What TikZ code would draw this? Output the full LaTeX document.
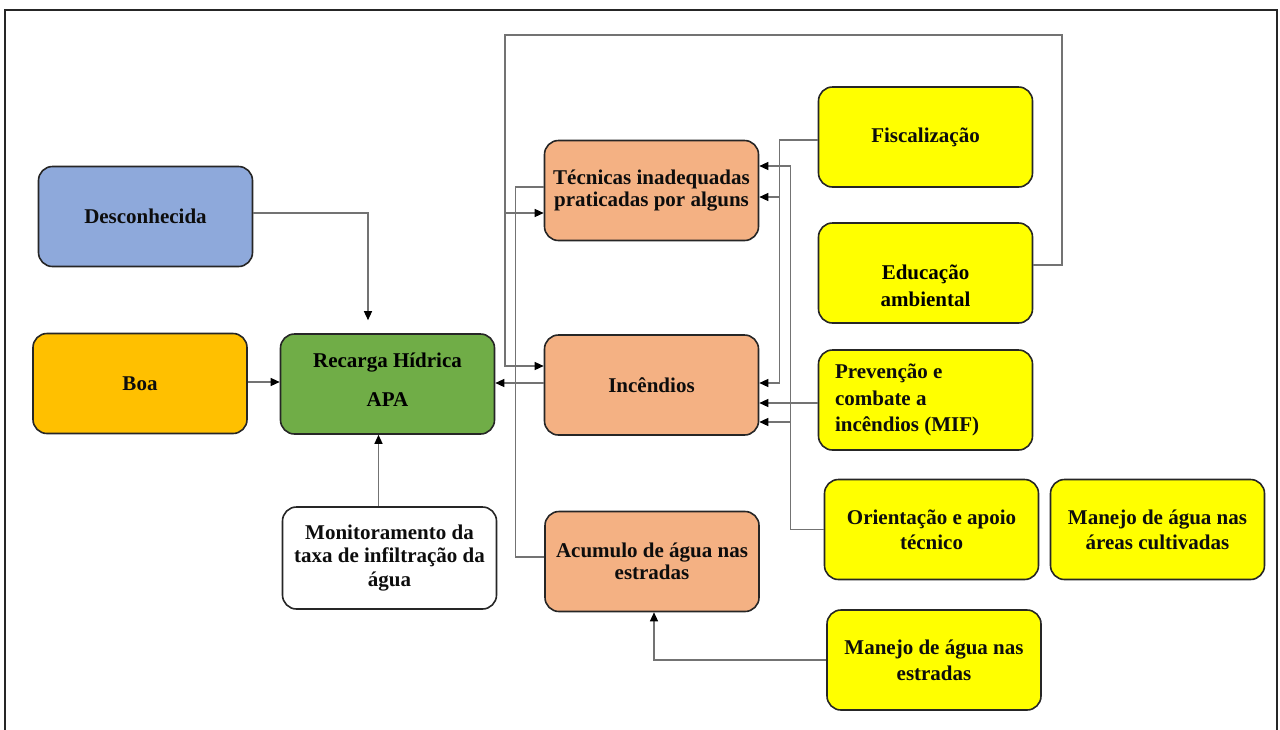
\documentclass[tikz,border=0pt]{standalone}
\usepackage{fontspec}
\setmainfont{Liberation Serif}
\usetikzlibrary{arrows.meta,calc}
\definecolor{boxline}{HTML}{262626}
\definecolor{linegray}{HTML}{737373}
\definecolor{boxblue}{HTML}{8EA9DB}
\definecolor{boxorange}{HTML}{FFC000}
\definecolor{boxgreen}{HTML}{70AD47}
\definecolor{salmon}{HTML}{F4B183}
\definecolor{yel}{HTML}{FFFF00}
\begin{document}
\begin{tikzpicture}[x=1pt,y=-1pt,
  box/.style={draw=boxline, line width=1.6pt, rounded corners=14pt, align=center,
    inner sep=0pt, minimum width=214pt, minimum height=100pt, text=black!95},
  lead/.style={font=\bfseries\fontsize{21}{#1}\selectfont},
  lead/.default=24,
  conn/.style={draw=linegray, line width=1.3pt},
  arr/.style={conn, -{Triangle[length=9pt,width=8pt,color=black]}},
  frame/.style={draw=black!85, line width=2pt}
]
\useasboundingbox (0,0) rectangle (1280,729);
\clip (0,0) rectangle (1280,729);

% outer frame (open at the bottom edge of the page)
\draw[frame] (5,740) -- (5,10) -- (1277,10) -- (1277,740);

% boxes
\node[box,fill=boxblue,lead] (desc) at (145.5,216.5) {Desconhecida};
\node[box,fill=boxorange,lead] (boa) at (140,383.5) {Boa};
\node[box,fill=boxgreen] (rec) at (387.5,384) {};
\node[lead,align=center,inner sep=0pt] (rectxt) at (387.5,379.5) {Recarga Hídrica\\[15pt]APA};
\node[box,fill=white,lead=23.5,minimum height=102pt] (mon) at (389.5,558) {Monitoramento da\\taxa de infiltração da\\água};
\node[box,fill=salmon,lead=22] (tec) at (651.5,190.5) {Técnicas inadequadas\\praticadas por alguns};
\node[box,fill=salmon,lead] (inc) at (651.5,385) {Incêndios};
\node[box,fill=salmon,lead=21.5] (acu) at (652,561.5) {Acumulo de água nas\\estradas};
\node[box,fill=yel,lead] (fis) at (925.5,137) {Fiscalização};
\node[box,fill=yel] (edu) at (925.5,273) {};
\node[lead=27,align=center,inner sep=0pt] (edutxt) at (925.5,286) {Educação\\ambiental};
\node[box,fill=yel,lead=26.5,align=flush left,text width=181pt] (pre) at (925.5,400) {Prevenção e\\combate a\\incêndios (MIF)};
\node[box,fill=yel,lead=25] (ori) at (931.5,529.5) {Orientação e apoio\\técnico};
\node[box,fill=yel,lead=25] (mca) at (1157.5,529.5) {Manejo de água nas\\áreas cultivadas};
\node[box,fill=yel,lead=26] (mes) at (934,660) {Manejo de água nas\\estradas};

% bend points of the long loop
\coordinate (topR) at (1062,35);
\coordinate (topL) at (505,35);

% links into the central box
\draw[arr, shorten >=13pt] ($(desc.east)+(0,-3.5)$) -| ($(rec.north)+(-19.5,0)$);
\draw[arr] ($(boa.east)+(0,-1.5)$) -- ($(rec.west)+(0,-2)$);
\draw[arr] ($(mon.north)+(-11,0)$) -- ($(rec.south)+(-9,0)$);
\draw[arr] ($(inc.west)+(0,-2)$) -- ($(rec.east)+(0,-1)$);

% education loop over the top
\draw[arr] ($(edu.east)+(0,-8)$) -| (topR) -- (topL) |- ($(inc.west)+(0,-19)$);
\draw[arr] ($(topL |- tec.west)+(0,22.5)$) -- ($(tec.west)+(0,22.5)$);

% road water link
\draw[conn] ($(acu.west)+(0,-4.5)$) -| ($(tec.west)+(-28,-3.5)$) -- ($(tec.west)+(0,-3.5)$);

% inspection
\draw[arr] ($(fis.west)+(0,3)$) -| ($(inc.east)+(20,-2)$) -- ($(inc.east)+(0,-2)$);
\draw[arr] ($(tec.east)+(20,6.5)$) -- ($(tec.east)+(0,6.5)$);

% technical guidance
\draw[arr] (ori.west) -| ($(tec.east)+(31,-24.5)$) -- ($(tec.east)+(0,-24.5)$);
\draw[arr] ($(inc.east)+(31,37)$) -- ($(inc.east)+(0,37)$);

% fire prevention
\draw[arr] ($(pre.west)+(0,3)$) -- ($(inc.east)+(0,18)$);

% road water management
\draw[arr] (mes.west) -| ($(acu.south)+(2,0)$);
\end{tikzpicture}
\end{document}
